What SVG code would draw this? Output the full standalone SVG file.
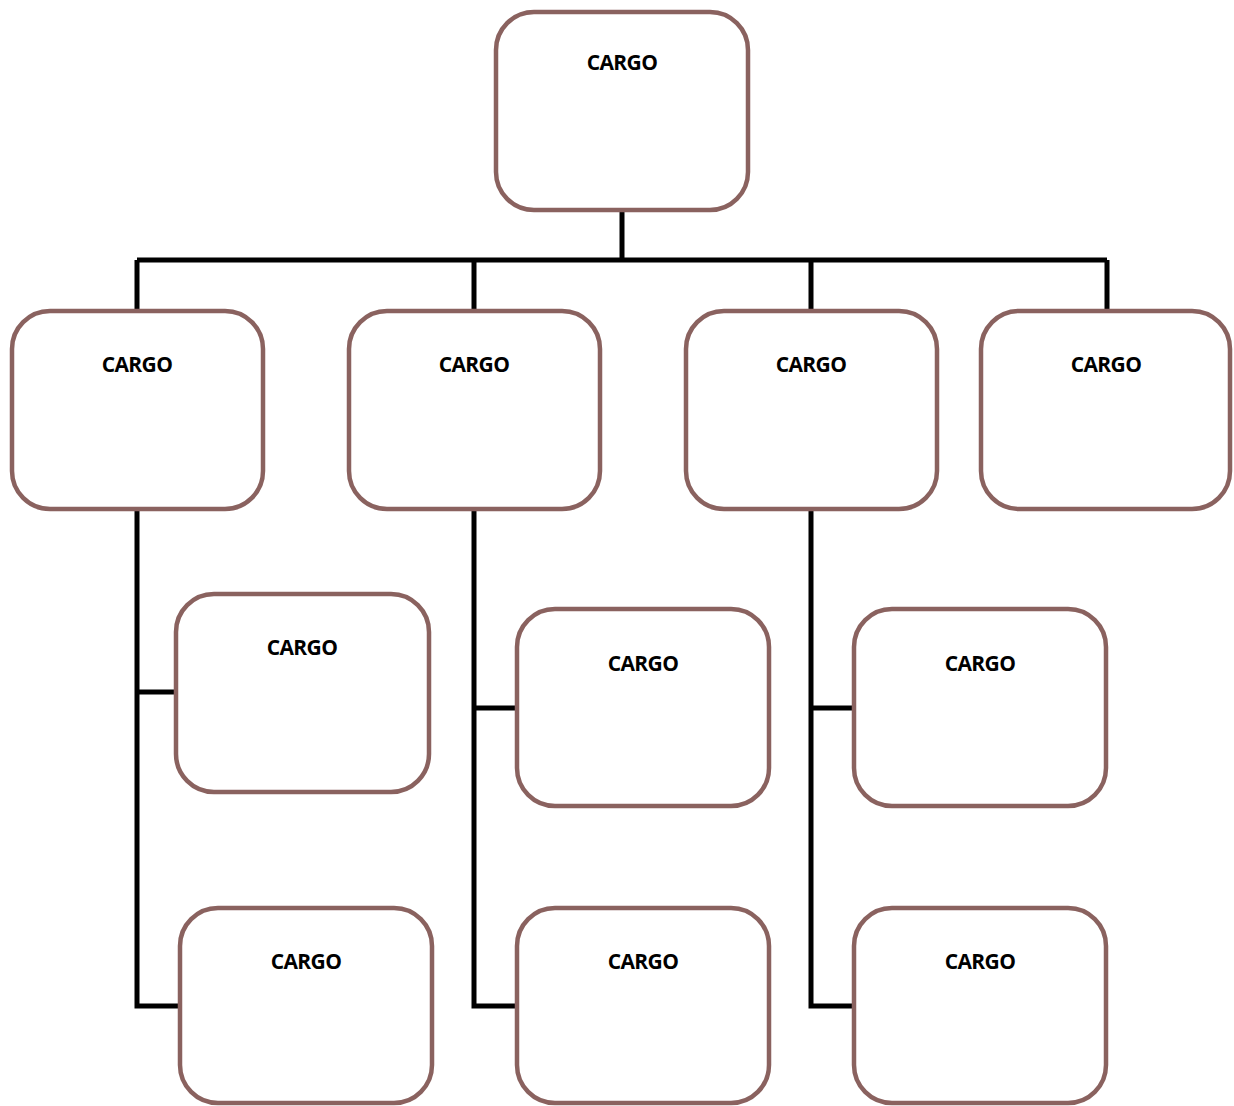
<svg xmlns="http://www.w3.org/2000/svg" width="1234" height="1106" viewBox="0 0 1234 1106">
<style>
.box{fill:#fff;stroke:#8a625f;stroke-width:4.5}
.lbl{font-family:"Open Sans","Liberation Sans",sans-serif;font-weight:700;font-size:21px;letter-spacing:-0.6px;fill:#000;text-anchor:middle}
.con{fill:none;stroke:#000;stroke-width:5}
</style>
<rect width="1234" height="1106" fill="#fff"/>
<g id="connectors">
<path class="con" d="M622 212V260M137 260H1107M137 260V309M474 260V309M811 260V309M1107 260V309"/>
<path class="con" d="M137 511V1006H178M137 692H174"/>
<path class="con" d="M474 511V1006H515M474 708H515"/>
<path class="con" d="M811 511V1006H852M811 708H852"/>
</g>
<g id="n0"><rect class="box" x="496" y="12" width="252" height="198" rx="38"/><text class="lbl" x="622" y="70">CARGO</text></g>
<g id="n1"><rect class="box" x="12" y="311" width="251" height="198" rx="38"/><text class="lbl" x="137" y="372">CARGO</text></g>
<g id="n2"><rect class="box" x="349" y="311" width="251" height="198" rx="38"/><text class="lbl" x="474" y="372">CARGO</text></g>
<g id="n3"><rect class="box" x="686" y="311" width="251" height="198" rx="38"/><text class="lbl" x="811" y="372">CARGO</text></g>
<g id="n4"><rect class="box" x="981" y="311" width="249" height="198" rx="38"/><text class="lbl" x="1106" y="372">CARGO</text></g>
<g id="n5"><rect class="box" x="176" y="594" width="253" height="198" rx="38"/><text class="lbl" x="302" y="655">CARGO</text></g>
<g id="n6"><rect class="box" x="517" y="609" width="252" height="197" rx="38"/><text class="lbl" x="643" y="671">CARGO</text></g>
<g id="n7"><rect class="box" x="854" y="609" width="252" height="197" rx="38"/><text class="lbl" x="980" y="671">CARGO</text></g>
<g id="n8"><rect class="box" x="180" y="908" width="252" height="195" rx="38"/><text class="lbl" x="306" y="969">CARGO</text></g>
<g id="n9"><rect class="box" x="517" y="908" width="252" height="195" rx="38"/><text class="lbl" x="643" y="969">CARGO</text></g>
<g id="n10"><rect class="box" x="854" y="908" width="252" height="195" rx="38"/><text class="lbl" x="980" y="969">CARGO</text></g>
</svg>
